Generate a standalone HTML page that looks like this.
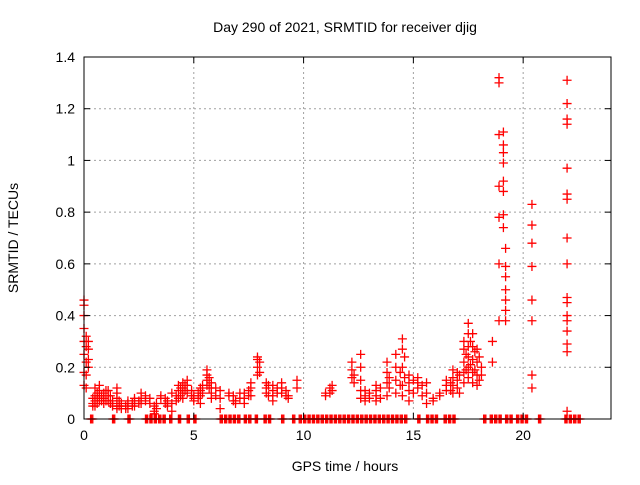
<!DOCTYPE html>
<html><head><meta charset="utf-8"><style>
html,body{margin:0;padding:0;background:#fff;}
svg text{font-family:"Liberation Sans",sans-serif;font-size:14px;fill:#000;}
</style></head><body>
<svg id="chart" width="640" height="480">
<text x="345" y="32" text-anchor="middle">Day 290 of 2021, SRMTID for receiver djig</text>
<text transform="translate(18,238) rotate(-90)" text-anchor="middle">SRMTID / TECUs</text>
<text x="345" y="471" text-anchor="middle">GPS time / hours</text>
<g id="grid"></g>
<g id="marks"></g>
<rect x="84" y="57" width="527" height="362" fill="none" stroke="#000" stroke-width="1"/>
<g id="ticks"></g>
</svg>
<script>
const xTicks=[0,5,10,15,20];
const yTicks=[0,0.2,0.4,0.6,0.8,1,1.2,1.4];
const yTickLabels=["0","0.2","0.4","0.6","0.8","1","1.2","1.4"];
const clusterTimes=[0.0,0.1,0.2,0.4,0.5,0.6,0.7,0.8,0.9,1.0,1.1,1.2,1.3,1.5,1.6,1.7,1.9,2.0,2.2,2.3,2.5,2.6,2.8,3.0,3.2,3.3,3.5,3.7,3.8,4.0,4.2,4.3,4.4,4.5,4.6,4.7,4.9,5.0,5.2,5.3,5.4,5.6,5.7,5.8,6.0,6.2,6.6,6.8,6.9,7.1,7.3,7.5,7.6,7.9,8.0,8.3,8.4,8.6,8.8,9.0,9.2,9.3,9.7,11.0,11.2,11.3,12.2,12.3,12.6,12.8,13.0,13.3,13.5,13.8,13.9,14.2,14.4,14.5,14.6,14.8,15.0,15.2,15.4,15.6,15.9,16.2,16.5,16.7,16.8,17.0,17.1,17.3,17.4,17.5,17.6,17.7,17.8,17.9,18.0,18.1,18.6,18.9,19.1,19.2,20.4,22.0];
const clusterValues=[[0.46,0.44,0.40,0.35,0.30,0.25,0.18,0.13],[0.32,0.28,0.22,0.17,0.12],[0.30,0.27,0.23,0.20],[0.08,0.06,0.05],[0.12,0.09,0.07,0.05],[0.10,0.08,0.06],[0.13,0.11,0.09,0.07],[0.09,0.07],[0.10,0.08,0.06],[0.11,0.07],[0.11,0.09,0.07],[0.09,0.06],[0.07,0.06,0.05],[0.12,0.10,0.08,0.05,0.04],[0.07,0.05],[0.06,0.05,0.04],[0.05,0.04],[0.07,0.06,0.04],[0.06,0.05],[0.08,0.07,0.05],[0.07,0.06],[0.10,0.08,0.06],[0.09,0.07],[0.08,0.06],[0.05,0.03,0.02],[0.06,0.04],[0.09,0.08],[0.08,0.06],[0.07,0.06,0.05],[0.10,0.06,0.03],[0.09,0.07],[0.08,0.11,0.13],[0.12,0.09],[0.14,0.12,0.10,0.08],[0.13,0.11],[0.15,0.13,0.10],[0.11,0.09],[0.09,0.08,0.07],[0.10,0.08],[0.12,0.11,0.09,0.06],[0.13,0.10],[0.19,0.17,0.15,0.13],[0.16,0.12],[0.14,0.12,0.10,0.08],[0.12,0.09],[0.11,0.08,0.04],[0.10,0.09],[0.09,0.07],[0.07,0.06],[0.10,0.08],[0.10,0.08,0.06],[0.11,0.09],[0.12,0.14,0.09],[0.24,0.23,0.20,0.17],[0.22,0.18],[0.14,0.12,0.10],[0.13,0.09],[0.13,0.11,0.09,0.07],[0.12,0.10],[0.14,0.12,0.10],[0.11,0.09],[0.09,0.08],[0.15,0.12],[0.10,0.09],[0.12,0.10],[0.13,0.11],[0.22,0.19,0.16],[0.17,0.14],[0.25,0.20,0.15,0.11,0.08],[0.07,0.09,0.11],[0.10,0.08],[0.13,0.11,0.09,0.07],[0.12,0.08],[0.22,0.18,0.14,0.09],[0.16,0.12],[0.25,0.20,0.15,0.10],[0.18,0.13],[0.31,0.27,0.20,0.13,0.09],[0.24,0.16],[0.17,0.14,0.11,0.07],[0.15,0.10],[0.16,0.14,0.12],[0.13,0.09],[0.14,0.10,0.06],[0.08,0.07],[0.10,0.09],[0.11,0.13,0.15],[0.14,0.11],[0.19,0.16,0.13,0.10],[0.18,0.15,0.12],[0.17,0.10],[0.30,0.27,0.22,0.18,0.14],[0.25,0.19],[0.37,0.33,0.28,0.24,0.20,0.16],[0.30,0.21],[0.33,0.28,0.23,0.18,0.14],[0.26,0.19],[0.27,0.22,0.17,0.13],[0.24,0.15],[0.20,0.17],[0.30,0.22],[1.32,1.30,1.10,0.90,0.78,0.60,0.38],[1.11,1.06,1.03,0.99,0.92,0.88,0.79,0.74],[0.66,0.59,0.55,0.50,0.46,0.42,0.38],[0.83,0.75,0.68,0.59,0.46,0.38,0.17,0.12],[1.31,1.22,1.16,1.14,0.97,0.87,0.85,0.70,0.60,0.47,0.45,0.40,0.38,0.34,0.29,0.26,0.03]];
const zeroTimes=[0.3,1.3,2.0,2.8,3.0,3.2,3.4,3.6,3.9,4.3,4.7,5.0,6.2,6.4,6.6,6.8,7.0,7.3,7.5,7.8,8.2,8.4,9.0,9.5,9.8,10.0,10.2,10.4,10.6,10.8,11.0,11.2,11.4,11.6,11.8,12.0,12.2,12.4,12.6,12.8,13.0,13.2,13.4,13.6,13.8,14.0,14.2,14.4,14.6,15.2,15.6,15.8,16.0,16.4,16.6,16.8,18.2,18.5,18.7,18.9,19.2,19.4,19.7,19.9,20.1,20.7,21.9,22.1,22.3,22.5];
const X0=84,X1=611,Y0=419,Y1=57,XMAX=24,YMAX=1.4;
function xs(t){return X0+t*(X1-X0)/XMAX;}
function ys(v){return Y0-v*(Y0-Y1)/YMAX;}
const NS="http://www.w3.org/2000/svg";
function mk(tag,attrs,parent){const e=document.createElementNS(NS,tag);for(const k in attrs)e.setAttribute(k,attrs[k]);parent.appendChild(e);return e;}
const grid=document.getElementById('grid'),ticks=document.getElementById('ticks'),marks=document.getElementById('marks');
xTicks.forEach((t,i)=>{const x=xs(t);
 if(i>0){const g=mk('line',{x1:x,x2:x,y1:Y0,y2:Y1,stroke:'#a0a0a0','stroke-dasharray':'2,3'},grid);
 
 }
 mk('line',{x1:x,x2:x,y1:Y0,y2:Y0-6,stroke:'#000'},ticks);mk('line',{x1:x,x2:x,y1:Y1,y2:Y1+6,stroke:'#000'},ticks);
 const l=mk('text',{x:x,y:Y0+21,'text-anchor':'middle'},ticks);l.textContent=String(t);
 
 });
yTicks.forEach((v,i)=>{const y=ys(v);
 if(i>0&&i<yTicks.length-1){const g=mk('line',{x1:X0,x2:X1,y1:y,y2:y,stroke:'#a0a0a0','stroke-dasharray':'2,3'},grid);
 
 }
 mk('line',{x1:X0,x2:X0+6,y1:y,y2:y,stroke:'#000'},ticks);mk('line',{x1:X1,x2:X1-6,y1:y,y2:y,stroke:'#000'},ticks);
 const l=mk('text',{x:X0-9,y:y+5,'text-anchor':'end'},ticks);l.textContent=yTickLabels[i];
 
 });
function plus(t,v,name){const x=xs(t),y=ys(v);
 const p=mk('path',{d:`M${x-4.5} ${y}H${x+4.5}M${x} ${y-4.5}V${y+4.5}`,stroke:'#ff0000','stroke-width':1.3,fill:'none'},marks);
 
 }
clusterTimes.forEach((t,i)=>clusterValues[i].forEach(v=>plus(t,v,'data-point')));
zeroTimes.forEach(t=>{plus(t,0,'zero-point');plus(t+0.05,0,'zero-point');plus(t+0.1,0,'zero-point');});
</script>
</body></html>
